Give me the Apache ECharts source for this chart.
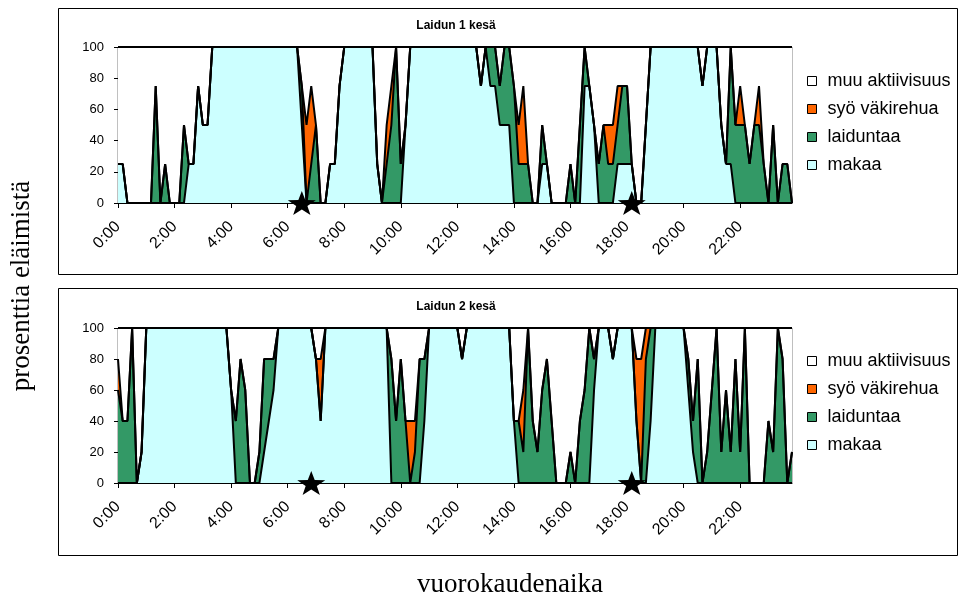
<!DOCTYPE html>
<html><head><meta charset="utf-8">
<script src="https://cdn.jsdelivr.net/npm/echarts@6/dist/echarts.min.js"></script>
<style>html,body{margin:0;padding:0;background:#fff}#c{width:961px;height:601px}</style>
</head><body><div id="c"></div><script>
// categories: 10-minute steps over the day
const times = [];
for (let h = 0; h < 24; h++) for (let m = 0; m < 60; m += 10) times.push(h + ':' + (m === 0 ? '00' : m));

const seriesNames = ['makaa', 'laiduntaa', 'syö väkirehua', 'muu aktiivisuus'];
const legendOrder = ['muu aktiivisuus', 'syö väkirehua', 'laiduntaa', 'makaa'];
const colors = ['#CCFFFF', '#339966', '#FF6600', '#FFFFFF'];

// Laidun 1 kesä
const p1Makaa = [
 25,25,0,0,0,0,0,0,0,0,0,0,
 0,0,0,25,25,75,50,50,100,100,100,100,
 100,100,100,100,100,100,100,100,100,100,100,100,
 100,100,100,50,0,0,0,0,0,25,25,75,
 100,100,100,100,100,100,100,25,0,0,0,0,
 0,50,100,100,100,100,100,100,100,100,100,100,
 100,100,100,100,100,75,100,75,75,50,50,50,
 0,0,0,0,0,0,25,25,0,0,0,0,
 0,0,0,75,75,50,0,0,0,0,25,25,
 25,25,0,0,50,100,100,100,100,100,100,100,
 100,100,100,100,75,100,100,100,50,25,25,0,
 0,0,0,0,0,0,0,0,0,0,0,0];
const p1Laiduntaa = [
 0,0,0,0,0,0,0,0,75,0,25,0,
 0,0,50,0,0,0,0,0,0,0,0,0,
 0,0,0,0,0,0,0,0,0,0,0,0,
 0,0,0,25,0,25,50,0,0,0,0,0,
 0,0,0,0,0,0,0,0,0,25,50,100,
 25,0,0,0,0,0,0,0,0,0,0,0,
 0,0,0,0,0,0,0,25,25,25,50,50,
 75,25,25,25,0,0,25,0,0,0,0,0,
 25,0,50,25,0,0,25,50,25,25,25,50,
 50,0,0,0,0,0,0,0,0,0,0,0,
 0,0,0,0,0,0,0,0,0,0,75,50,
 50,50,25,50,50,25,0,50,0,25,25,0];
const p1Syo = [
 0,0,0,0,0,0,0,0,0,0,0,0,
 0,0,0,0,0,0,0,0,0,0,0,0,
 0,0,0,0,0,0,0,0,0,0,0,0,
 0,0,0,0,50,50,0,0,0,0,0,0,
 0,0,0,0,0,0,0,0,0,25,25,0,
 0,0,0,0,0,0,0,0,0,0,0,0,
 0,0,0,0,0,0,0,0,0,0,0,0,
 0,25,50,0,0,0,0,0,0,0,0,0,
 0,0,0,0,0,0,0,0,25,25,25,0,
 0,0,0,0,0,0,0,0,0,0,0,0,
 0,0,0,0,0,0,0,0,0,0,0,0,
 25,0,0,0,25,0,0,0,0,0,0,0];

// Laidun 2 kesä
const p2Makaa = [
 0,0,0,0,0,20,100,100,100,100,100,100,
 100,100,100,100,100,100,100,100,100,100,100,100,
 60,0,0,0,0,0,0,20,40,60,100,100,
 100,100,100,100,100,100,80,40,100,100,100,100,
 100,100,100,100,100,100,100,100,100,100,0,0,
 0,0,0,0,0,40,100,100,100,100,100,100,
 100,80,100,100,100,100,100,100,100,100,100,100,
 40,0,0,0,0,0,0,0,0,0,0,0,
 0,0,0,0,0,60,100,100,100,80,100,100,
 100,100,40,0,0,40,100,100,100,100,100,100,
 100,60,20,0,0,0,0,0,0,0,0,0,
 0,0,0,0,0,0,0,0,0,0,0,0];
const p2Laiduntaa = [
 60,40,40,100,0,0,0,0,0,0,0,0,
 0,0,0,0,0,0,0,0,0,0,0,0,
 0,40,80,60,0,0,20,60,40,20,0,0,
 0,0,0,0,0,0,0,0,0,0,0,0,
 0,0,0,0,0,0,0,0,0,0,80,40,
 80,40,0,20,80,40,0,0,0,0,0,0,
 0,0,0,0,0,0,0,0,0,0,0,0,
 0,40,20,100,40,20,60,80,40,0,0,0,
 20,0,40,60,100,20,0,0,0,0,0,0,
 0,0,0,0,80,60,0,0,0,0,0,0,
 0,20,20,80,0,20,60,100,20,60,20,80,
 20,100,0,0,0,0,40,20,100,80,0,20];
const p2Syo = [
 20,0,0,0,0,0,0,0,0,0,0,0,
 0,0,0,0,0,0,0,0,0,0,0,0,
 0,0,0,0,0,0,0,0,0,0,0,0,
 0,0,0,0,0,0,0,40,0,0,0,0,
 0,0,0,0,0,0,0,0,0,0,0,0,
 0,0,40,20,0,0,0,0,0,0,0,0,
 0,0,0,0,0,0,0,0,0,0,0,0,
 0,0,40,0,0,0,0,0,0,0,0,0,
 0,0,0,0,0,0,0,0,0,0,0,0,
 0,0,40,80,20,0,0,0,0,0,0,0,
 0,0,0,0,0,0,0,0,0,0,0,0,
 0,0,0,0,0,0,0,0,0,0,0,0];

// milking times (category index) shown with stars
const p1Stars = [39, 109];
const p2Stars = [41, 109];

const yTicks = [0, 20, 40, 60, 80, 100];

const panels = [
  { m: p1Makaa, g: p1Laiduntaa, o: p1Syo, stars: p1Stars, top: 47, height: 156, legendTop: 72 },
  { m: p2Makaa, g: p2Laiduntaa, o: p2Syo, stars: p2Stars, top: 328, height: 155, legendTop: 352 }
];

const starPath = 'path://M50,0 L61.8,33.8 L97.6,34.5 L69,56.2 L79.4,90.5 L50,70 L20.6,90.5 L31,56.2 L2.4,34.5 L38.2,33.8 Z';
const font = 'Liberation Sans';

const grids = [], xAxes = [], yAxes = [], series = [], legends = [];
panels.forEach((p, k) => {
  grids.push({ left: 118, top: p.top, width: 674, height: p.height, show: true, borderColor: '#808080', borderWidth: 1, backgroundColor: 'transparent' });
  xAxes.push({ gridIndex: k, type: 'category', data: times, boundaryGap: false,
    axisLine: { lineStyle: { color: '#000', width: 1 } },
    axisTick: { interval: 11, length: 5, lineStyle: { color: '#000' } },
    axisLabel: { interval: 11, rotate: 45, color: '#000', fontSize: 16, fontFamily: font, margin: 21 },
    splitLine: { show: false } });
  yAxes.push({ gridIndex: k, type: 'value', min: yTicks[0], max: yTicks[yTicks.length - 1], interval: 20,
    axisLine: { show: true, lineStyle: { color: '#000', width: 1 } },
    axisTick: { show: true, length: 4, lineStyle: { color: '#000' } },
    splitLine: { show: false },
    axisLabel: { color: '#000', fontSize: 13, fontFamily: font, margin: 14 } });
  const muu = p.m.map((v, i) => 100 - v - p.g[i] - p.o[i]);
  const datas = [p.m, p.g, p.o, muu];
  datas.forEach((d, j) => {
    series.push({ name: seriesNames[j], type: 'line', xAxisIndex: k, yAxisIndex: k, stack: 'area' + k,
      data: d, symbol: 'none', lineStyle: { width: 0 }, areaStyle: { color: colors[j], opacity: 1 },
      itemStyle: { color: colors[j] }, z: 2, animation: false });
  });
  datas.forEach((d, j) => {
    series.push({ type: 'line', xAxisIndex: k, yAxisIndex: k, stack: 'line' + k,
      data: d, symbol: 'none', lineStyle: { color: '#000', width: 2 }, z: 3, silent: true, animation: false });
  });
  series.push({ type: 'scatter', xAxisIndex: k, yAxisIndex: k, data: p.stars.map(s => [s, 0]),
    symbol: starPath, symbolSize: [28, 24], itemStyle: { color: '#000', opacity: 1 }, clip: false, z: 6, silent: true, animation: false });
  legends.push({ data: legendOrder, orient: 'vertical', left: 807, top: p.legendTop, padding: 0,
    icon: 'rect', itemWidth: 9, itemHeight: 9, itemGap: 10, selectedMode: false,
    itemStyle: { borderColor: '#000', borderWidth: 1 },
    textStyle: { color: '#000', fontSize: 18, fontFamily: font, lineHeight: 18, padding: [0, 0, 0, 6] } });
});

const chart = echarts.init(document.getElementById('c'), null, { renderer: 'canvas' });
chart.setOption({
  backgroundColor: '#fff',
  animation: false,
  grid: grids, xAxis: xAxes, yAxis: yAxes, series: series, legend: legends,
  graphic: [
    { type: 'rect', shape: { x: 58.5, y: 8.5, width: 899, height: 266 }, style: { fill: 'none', stroke: '#000', lineWidth: 1 }, z: -1 },
    { type: 'rect', shape: { x: 58.5, y: 288.5, width: 899, height: 267 }, style: { fill: 'none', stroke: '#000', lineWidth: 1 }, z: -1 },
    { type: 'text', x: 456, y: 26, style: { text: 'Laidun 1 kesä', font: 'bold 12px "Liberation Sans"', fill: '#000', textAlign: 'center', textVerticalAlign: 'middle' } },
    { type: 'text', x: 456, y: 307, style: { text: 'Laidun 2 kesä', font: 'bold 12px "Liberation Sans"', fill: '#000', textAlign: 'center', textVerticalAlign: 'middle' } },
    { type: 'text', x: 22, y: 286, rotation: Math.PI / 2, style: { text: 'prosenttia eläimistä', font: '27px "Liberation Serif"', fill: '#000', textAlign: 'center', textVerticalAlign: 'middle' } },
    { type: 'text', x: 510, y: 585, style: { text: 'vuorokaudenaika', font: '27px "Liberation Serif"', fill: '#000', textAlign: 'center', textVerticalAlign: 'middle' } }
  ]
});
</script></body></html>
